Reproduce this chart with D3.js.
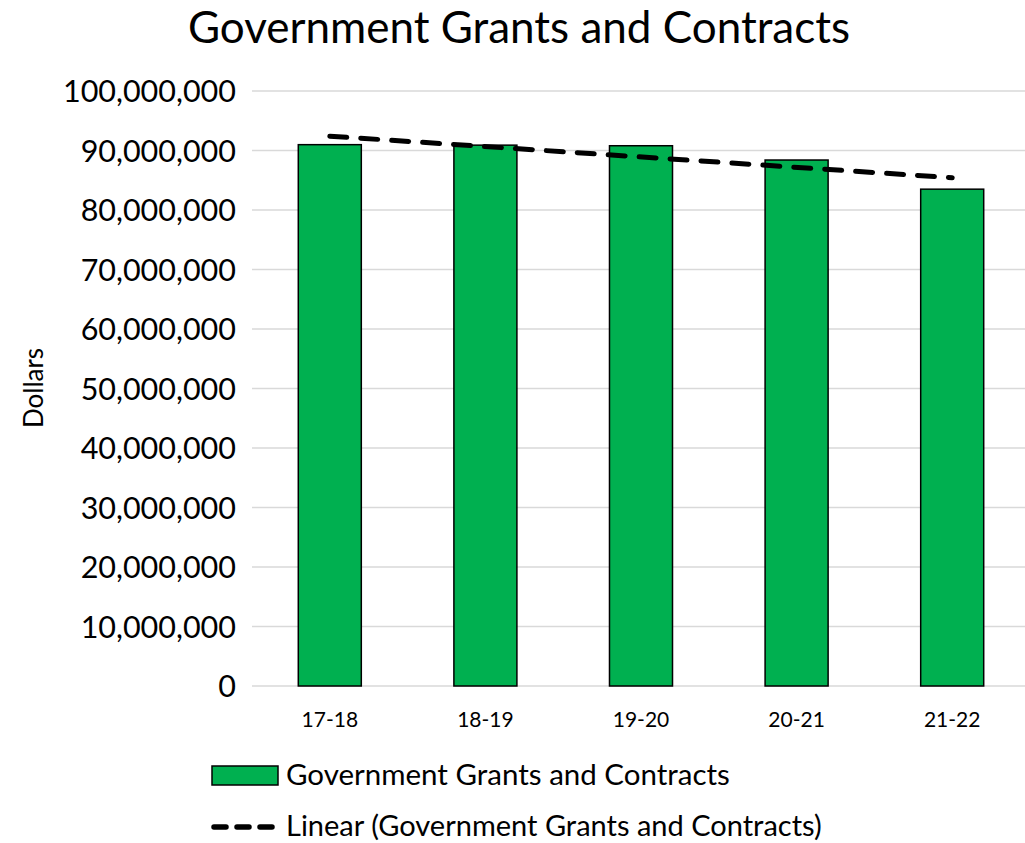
<!DOCTYPE html>
<html>
<head>
<meta charset="utf-8">
<script src="https://cdn.jsdelivr.net/npm/d3@7"></script>
<style>
  html, body { margin: 0; padding: 0; background: #fff; }
  svg { display: block; font-family: Lato, "Open Sans", sans-serif; }
</style>
</head>
<body>
<svg id="chart" width="1025" height="843"></svg>
<script>
// Fiscal years and government grant/contract revenue (dollars)
const categories = ["17-18", "18-19", "19-20", "20-21", "21-22"];
const grantValues = [90980000, 90900000, 90800000, 88400000, 83500000];
const yTicks = [0, 10000000, 20000000, 30000000, 40000000, 50000000,
                60000000, 70000000, 80000000, 90000000, 100000000];

const svg = d3.select("#chart");
const margin = { left: 252, right: -5, top: 91, bottom: 157 };
const W = 1025, H = 843;

const x = d3.scaleBand()
  .domain(categories)
  .range([margin.left, W - margin.right])
  .paddingInner(0.595)
  .paddingOuter(0.2975);

const y = d3.scaleLinear()
  .domain([0, 100000000])
  .range([H - margin.bottom, margin.top]);

// Title
svg.append("text")
  .attr("x", 519).attr("y", 43)
  .attr("text-anchor", "middle")
  .attr("font-size", 44)
  .attr("fill", "#000")
  .text("Government Grants and Contracts");

// Horizontal gridlines
svg.append("g").selectAll("line")
  .data(yTicks)
  .join("line")
  .attr("x1", margin.left).attr("x2", W)
  .attr("y1", d => y(d)).attr("y2", d => y(d))
  .attr("stroke", "#d9d9d9")
  .attr("stroke-width", 1.5);

// Y axis labels
const fmt = d3.format(",");
const yAxis = d3.axisLeft(y).tickValues(yTicks).tickFormat(fmt).tickSize(0).tickPadding(0);
const gy = svg.append("g")
  .attr("transform", `translate(236,0)`)
  .call(yAxis);
gy.select(".domain").remove();
gy.selectAll("text")
  .attr("font-size", 30.5)
  .attr("font-family", "Lato, 'Open Sans', sans-serif")
  .attr("fill", "#000")
  .attr("dy", "0.35em");

// Y axis title
svg.append("text")
  .attr("transform", "translate(43,388) rotate(-90)")
  .attr("text-anchor", "middle")
  .attr("font-size", 26)
  .attr("fill", "#000")
  .text("Dollars");

// Bars
svg.append("g").selectAll("rect")
  .data(categories)
  .join("rect")
  .attr("x", d => x(d))
  .attr("width", x.bandwidth())
  .attr("y", (d, i) => y(grantValues[i]))
  .attr("height", (d, i) => y(0) - y(grantValues[i]))
  .attr("fill", "#00b050")
  .attr("stroke", "#000")
  .attr("stroke-width", 1.5);

// X axis labels
const xAxis = d3.axisBottom(x).tickSize(0).tickPadding(0);
const gx = svg.append("g")
  .attr("transform", `translate(0,${y(0) + 34})`)
  .call(xAxis);
gx.select(".domain").remove();
gx.selectAll("text")
  .attr("font-size", 21)
  .attr("font-family", "Lato, 'Open Sans', sans-serif")
  .attr("fill", "#000")
  .attr("dy", "0.35em");

// Least-squares linear trend through the bar values
const n = grantValues.length;
const idx = d3.range(n);
const mx = d3.mean(idx), my = d3.mean(grantValues);
const slope = d3.sum(idx, i => (i - mx) * (grantValues[i] - my)) / d3.sum(idx, i => (i - mx) ** 2);
const intercept = my - slope * mx;
const trend = idx.map(i => ({ c: categories[i], v: intercept + slope * i }));

const line = d3.line()
  .x(d => x(d.c) + x.bandwidth() / 2)
  .y(d => y(d.v));

svg.append("path")
  .datum([trend[0], trend[n - 1]])
  .attr("d", line)
  .attr("fill", "none")
  .attr("stroke", "#000")
  .attr("stroke-width", 5)
  .attr("stroke-linecap", "round")
  .attr("stroke-dasharray", "17 14");

// Legend
const legend = svg.append("g");
legend.append("rect")
  .attr("x", 212).attr("y", 766)
  .attr("width", 66).attr("height", 19)
  .attr("fill", "#00b050")
  .attr("stroke", "#000")
  .attr("stroke-width", 1.5);
legend.append("text")
  .attr("x", 286).attr("y", 775)
  .attr("dy", "0.35em")
  .attr("font-size", 29.5)
  .attr("fill", "#000")
  .text("Government Grants and Contracts");

legend.append("line")
  .attr("x1", 214).attr("x2", 278)
  .attr("y1", 827).attr("y2", 827)
  .attr("stroke", "#000")
  .attr("stroke-width", 5.5)
  .attr("stroke-linecap", "round")
  .attr("stroke-dasharray", "12 11");
legend.append("text")
  .attr("x", 286).attr("y", 826)
  .attr("dy", "0.35em")
  .attr("font-size", 29)
  .attr("fill", "#000")
  .text("Linear (Government Grants and Contracts)");
</script>
</body>
</html>
